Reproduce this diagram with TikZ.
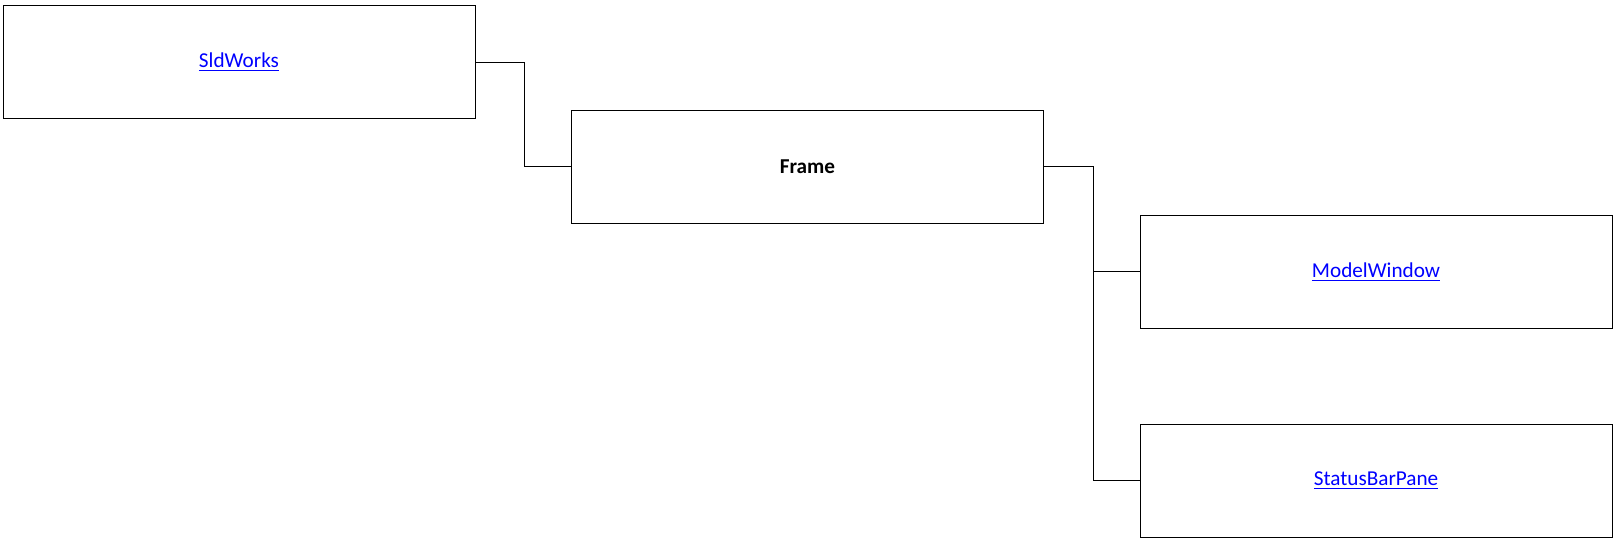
\documentclass[tikz,border=0pt]{standalone}
\usepackage{fontspec}
\setmainfont{Carlito}
\usetikzlibrary{positioning}
\definecolor{swInk}{HTML}{000000}
\definecolor{swLink}{HTML}{0000FF}
\newcommand{\swref}[1]{\textcolor{swLink}{\underline{#1}}}
\tikzset{
  objbox/.style={
    draw=swInk, line width=0.5pt, fill=white,
    minimum width=236pt, minimum height=56.5pt, inner sep=0pt,
    font=\fontsize{10.6}{12}\selectfont, text=swInk
  },
  wire/.style={draw=swInk, line width=0.5pt},
}
\begin{document}
\begin{tikzpicture}[x=0.5pt, y=-0.5pt]
  \useasboundingbox (0,0) rectangle (1615,539);
  \node[objbox] (sld) at (239,62.5) {\swref{SldWorks}};
  \node[objbox] (frame) at (807.5,167) {\textbf{Frame}};
  \node[objbox] (mwin) at (1376,272) {\swref{ModelWindow}};
  \node[objbox] (sbpane) at (1376,480.5) {\swref{StatusBarPane}};

  \draw[wire] (sld.east) -- ++(49,0) |- (frame.west);
  \draw[wire] (frame.east) -- ++(49,0) |- (mwin.west);
  \draw[wire] (frame.east) -- ++(49,0) |- (sbpane.west);
\end{tikzpicture}
\end{document}
